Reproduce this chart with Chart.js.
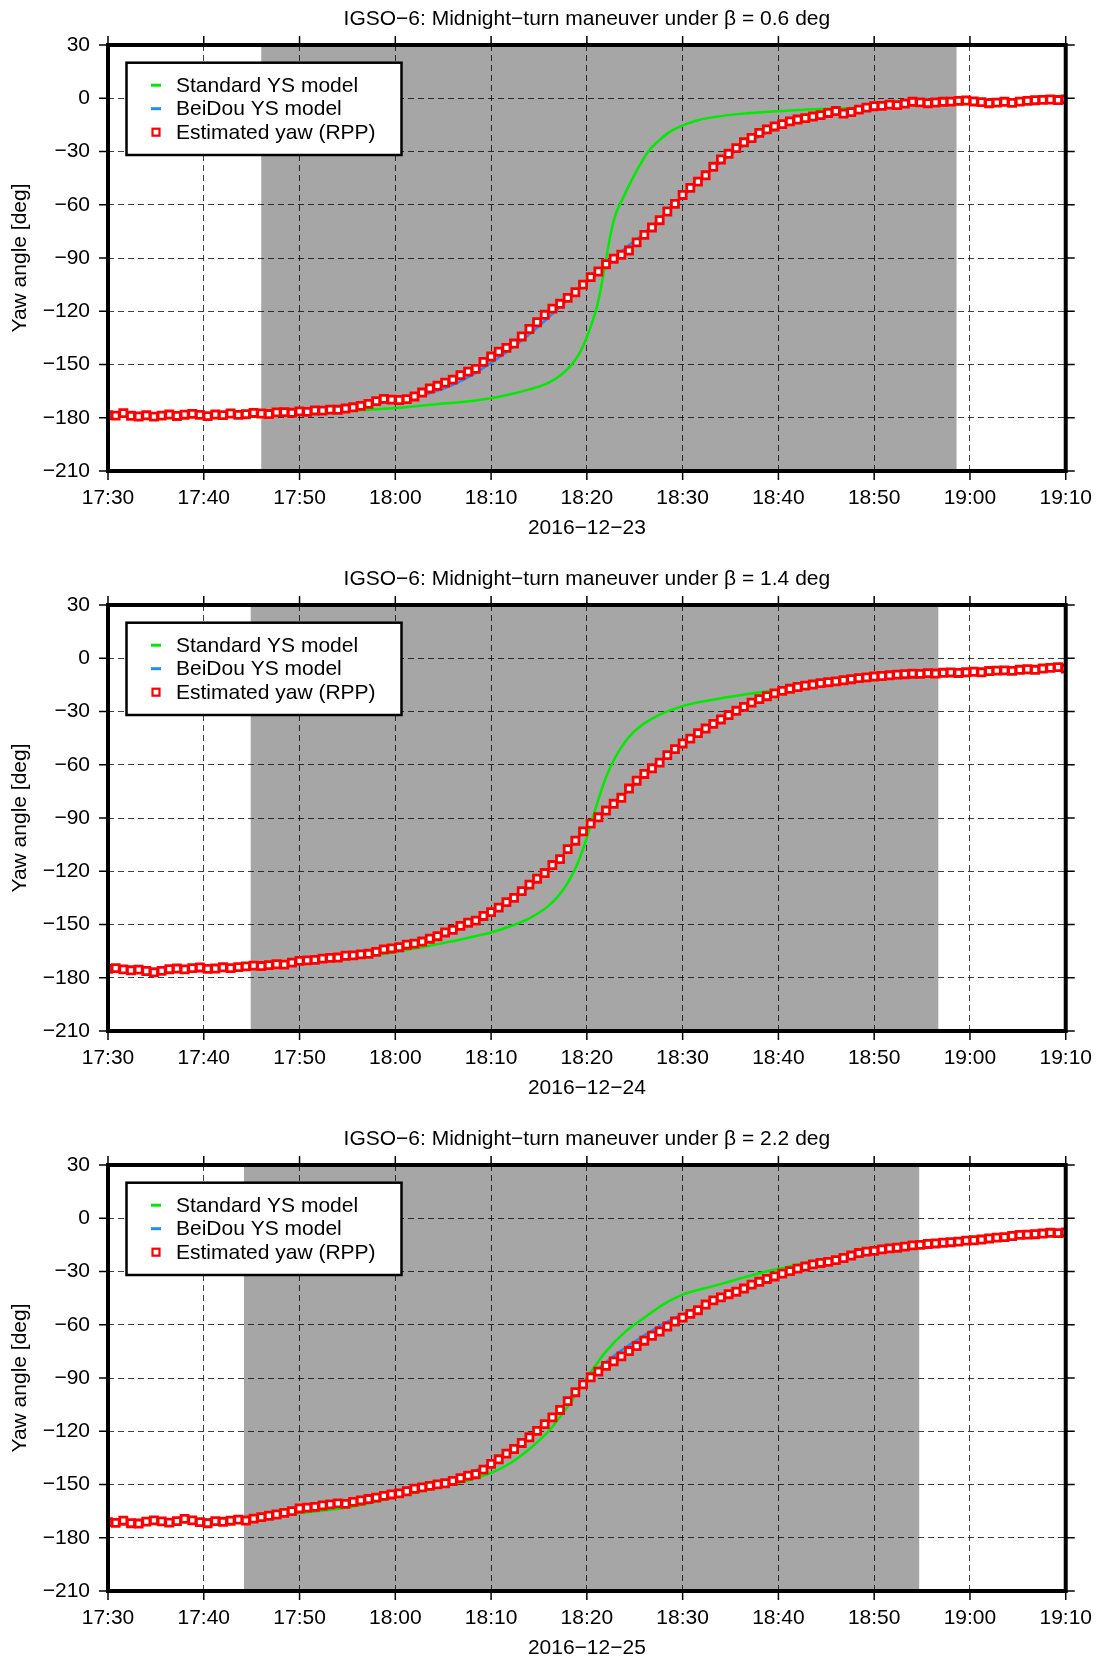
<!DOCTYPE html>
<html>
<head>
<meta charset="utf-8">
<script src="https://cdn.jsdelivr.net/npm/chart.js@4/dist/chart.umd.min.js"></script>
<style>
  body { margin: 0; background: #fff; overflow: hidden; }
  canvas { display: block; }
</style>
</head>
<body>
<canvas id="yaw1" width="1107" height="560"></canvas>
<canvas id="yaw2" width="1107" height="560"></canvas>
<canvas id="yaw3" width="1107" height="545"></canvas>
<script>
// time axis in minutes after 17:30 UTC
const xLabels = ['17:30', '17:40', '17:50', '18:00', '18:10', '18:20', '18:30', '18:40', '18:50', '19:00', '19:10'];
const titles = [
    'IGSO\u22126: Midnight\u2212turn maneuver under \u03b2 = 0.6 deg',
    'IGSO\u22126: Midnight\u2212turn maneuver under \u03b2 = 1.4 deg',
    'IGSO\u22126: Midnight\u2212turn maneuver under \u03b2 = 2.2 deg'
];
const dates = ['2016\u221212\u221223', '2016\u221212\u221224', '2016\u221212\u221225'];
const legendLabels = ['Standard YS model', 'BeiDou YS model', 'Estimated yaw (RPP)'];

// eclipse season shading (minutes after 17:30)
const shadeStart = [16.0, 14.9, 14.2];
const shadeEnd = [88.6, 86.7, 84.7];

// estimated yaw from RPP, one value every 48 s
const rppStep = 0.8;
const rpp1 = [
    -178.5, -178.8, -177.4, -178.9, -179.3, -178.6, -179.4, -178.8, -178.2, -179.0,
    -178.3, -177.8, -178.4, -179.1, -178.2, -178.5, -177.6, -178.4, -178.0, -177.3,
    -177.6, -177.9, -177.0, -176.8, -177.2, -176.4, -176.7, -175.9, -176.0, -175.4,
    -175.5, -174.8, -174.1, -173.3, -172.2, -170.6, -169.4, -169.8, -170.0, -169.5,
    -168.0, -165.8, -163.5, -162.0, -160.2, -158.5, -156.0, -154.0, -152.5, -148.5,
    -145.5, -142.8, -140.6, -138.2, -134.2, -130.0, -126.2, -122.0, -118.5, -115.8,
    -112.5, -109.3, -105.0, -100.8, -97.6, -93.5, -90.4, -88.2, -85.8, -81.2,
    -77.0, -72.8, -68.7, -63.8, -59.5, -54.5, -50.5, -47.0, -43.4, -38.6,
    -34.5, -31.3, -28.1, -24.8, -22.4, -19.5, -17.5, -15.9, -14.6, -13.0,
    -12.0, -11.2, -10.3, -9.5, -8.3, -7.2, -8.6, -7.8, -6.4, -5.3,
    -4.5, -4.3, -3.6, -3.9, -3.0, -2.0, -2.3, -2.8, -2.4, -2.0,
    -1.9, -1.5, -1.3, -1.8, -2.2, -2.8, -2.5, -2.0, -2.6, -1.9,
    -1.5, -1.1, -0.9, -0.7, -1.0, -0.6
];
const rpp2 = [
    -175.0, -174.6, -175.3, -175.8, -175.4, -176.2, -177.0, -176.1, -175.2, -174.8,
    -175.3, -174.6, -174.2, -175.0, -174.8, -174.1, -174.6, -174.0, -173.6, -173.2,
    -173.4, -172.9, -172.4, -172.6, -171.5, -170.5, -170.2, -169.9, -169.2, -168.8,
    -168.6, -167.6, -167.4, -166.8, -166.5, -165.4, -164.0, -163.5, -162.8, -161.4,
    -160.8, -159.6, -158.0, -156.6, -154.5, -153.0, -150.8, -149.0, -147.8, -145.2,
    -143.0, -140.5, -137.4, -135.0, -131.2, -127.5, -124.2, -121.0, -116.5, -113.2,
    -107.5, -102.8, -97.5, -93.2, -89.6, -85.8, -82.0, -78.6, -73.4, -69.0,
    -65.2, -62.0, -58.8, -54.6, -51.2, -48.0, -45.3, -42.2, -39.6, -37.0,
    -34.5, -32.0, -29.6, -27.4, -25.0, -23.0, -21.4, -19.8, -18.4, -17.2,
    -16.2, -15.4, -14.8, -14.0, -13.5, -13.0, -12.4, -11.8, -11.2, -10.8,
    -10.3, -10.0, -9.6, -9.2, -9.0, -8.7, -8.8, -8.4, -8.6, -8.2,
    -8.0, -8.3, -7.9, -7.6, -7.9, -7.2, -7.0, -6.8, -7.1, -6.5,
    -6.2, -6.5, -5.8, -5.4, -5.0, -5.8
];
const rpp3 = [
    -171.2, -171.6, -170.4, -171.8, -172.0, -170.9, -170.2, -170.8, -171.5, -170.6,
    -169.4, -170.2, -171.2, -171.8, -170.6, -171.0, -170.4, -169.8, -170.3, -169.2,
    -168.4, -167.6, -166.9, -166.0, -165.0, -163.5, -163.0, -162.6, -161.8, -161.2,
    -160.6, -160.9, -159.8, -159.0, -158.2, -157.4, -156.4, -155.6, -155.0, -153.8,
    -152.4, -151.6, -150.8, -149.9, -149.3, -148.0, -146.4, -145.0, -144.2, -141.6,
    -138.4, -135.8, -132.6, -130.0, -126.6, -123.4, -119.8, -116.0, -112.2, -108.0,
    -103.0, -98.0, -93.6, -89.6, -86.4, -83.2, -80.6, -77.8, -74.8, -72.0,
    -69.0, -66.2, -63.8, -61.0, -58.2, -56.0, -53.9, -51.8, -48.6, -46.3,
    -44.6, -42.8, -41.4, -39.6, -37.4, -35.8, -34.2, -32.8, -31.2, -29.8,
    -28.4, -27.2, -26.0, -25.2, -24.6, -23.6, -22.4, -21.0, -19.6, -18.8,
    -18.4, -17.5, -17.0, -16.6, -16.0, -15.3, -15.0, -14.5, -14.2, -13.8,
    -13.5, -13.2, -12.6, -12.4, -12.0, -11.4, -10.9, -10.6, -10.0, -9.4,
    -9.2, -9.0, -8.6, -8.2, -8.4, -8.0
];

// BeiDou yaw-steering model, every 2 min
const bdsStep = 2;
const bds1 = [
    -179, -179, -179, -178.8, -178.6, -178.4, -178.2, -178, -177.6, -177.2,
    -176.6, -175.8, -174.8, -173.6, -172.2, -170.6, -168.5, -165.5, -161.5, -156,
    -149, -141.5, -133, -123.5, -113.5, -103.5, -94, -84.5, -76, -66,
    -55.5, -45.5, -36, -28, -21.5, -16.5, -12.8, -9.8, -7.4, -5.6,
    -4.2, -3.4, -2.8, -2.4, -2.1, -1.9, -1.8, -1.7, -1.6, -1.5, -1.4
];
const bds2 = [
    -175.2, -175.1, -175, -174.9, -174.7, -174.5, -174.2, -173.8, -173.2, -172.4,
    -171.4, -170.2, -168.9, -167.5, -166, -164, -161.5, -158, -153.5, -148.5,
    -143, -136.5, -129, -119.5, -108, -96, -86, -76.5, -66, -56.5,
    -48, -40.5, -34, -28.5, -23.5, -19.5, -16.3, -14, -12.2, -11,
    -10.2, -9.6, -9.2, -8.8, -8.4, -8, -7.6, -7.2, -6.8, -6.4, -6
];
const bds3 = [
    -171.5, -171.3, -171, -170.7, -170.3, -169.9, -169.4, -168.7, -167.8, -166.6,
    -165.2, -163.6, -161.8, -160, -158, -156, -153.5, -150.5, -147, -143,
    -138, -131.5, -123.5, -114, -103, -91, -81, -73, -66, -59.5,
    -54, -49.5, -45.5, -41.5, -37.5, -33.5, -30, -27, -24.2, -21.8,
    -19.5, -17.6, -16, -14.7, -13.6, -12.6, -11.6, -10.7, -9.9, -9.1, -8.4
];

// standard yaw-steering model (denser around the turn)
const std1T = [0, 10, 20, 25, 30, 34, 38, 40, 42, 44, 45.5, 46.5, 47.5, 48.5, 49.25, 50, 50.5, 51, 51.5, 52,
    52.5, 53, 53.75, 54.6, 55.5, 56.4, 57.5, 58.5, 59.7, 61.5, 63.5, 66, 69, 73, 77, 82, 88, 94, 100];
const std1V = [-178.8, -178.5, -177.3, -176.2, -174.5, -172.5, -170.5, -169, -166.8, -164, -161.5, -158.8, -155, -149.5, -143.5, -134.5, -127, -118.5, -106, -91,
    -76, -65.5, -56.5, -47, -38, -30, -24, -19.5, -16, -12.5, -10.4, -8.8, -7.6, -6.4, -5.6, -4.4, -3.3, -2.5, -1.8];
const std2T = [0, 10, 20, 25, 30, 35, 38, 40, 42, 44, 46, 47, 48, 49, 50, 50.5, 51, 52, 53, 54,
    55, 57, 60, 63, 66, 70, 75, 80, 85, 90, 95, 100];
const std2V = [-175.2, -174.6, -171.8, -169.5, -165.5, -160.5, -157, -154.5, -151, -146.5, -139.5, -134, -126.5, -116, -101, -92, -83, -67, -55.5, -47,
    -41, -33.5, -27, -23.5, -20.8, -17.8, -14.5, -12, -10.2, -8.6, -7.3, -6];
const std3T = [0, 10, 20, 25, 30, 35, 38, 40, 42, 44, 46, 48, 50, 52, 54, 56, 58, 60, 63, 65,
    68, 70, 73, 76, 80, 85, 90, 95, 100];
const std3V = [-171.5, -170, -166, -163, -157, -151, -147, -143.5, -138, -130, -120, -106, -90, -75, -64, -56, -48.5, -43, -38.5, -35.5,
    -31, -28.5, -25, -22.2, -19, -15.4, -12.6, -10.4, -8.4];

const panels = [
    { id: 'yaw1', rpp: rpp1, bds: bds1, stdT: std1T, stdV: std1V },
    { id: 'yaw2', rpp: rpp2, bds: bds2, stdT: std2T, stdV: std2V },
    { id: 'yaw3', rpp: rpp3, bds: bds3, stdT: std3T, stdV: std3V }
];

const FONT = '21px "Liberation Sans", Arial, Helvetica, sans-serif';
Chart.defaults.font.family = '"Liberation Sans", Arial, Helvetica, sans-serif';
Chart.defaults.font.size = 21;
Chart.defaults.color = '#000';

const GREEN = 'rgb(0,235,0)';
const BLUE = 'rgb(30,140,255)';
const RED = 'rgb(255,0,0)';

function signed(v) {
    return v < 0 ? '\u2212' + Math.abs(v) : String(v);
}

const frame = {
    id: 'frame',
    beforeDraw(chart, args, o) {
        const { ctx, chartArea: a, scales: { x } } = chart;
        const x0 = x.getPixelForValue(o.shade[0]);
        const x1 = x.getPixelForValue(o.shade[1]);
        ctx.save();
        ctx.fillStyle = '#a6a6a6';
        ctx.fillRect(x0, a.top, x1 - x0, a.bottom - a.top);
        ctx.restore();
    },
    afterDraw(chart, args, o) {
        const { ctx, chartArea: a, scales: { x, y } } = chart;
        ctx.save();

        // ticks on all four sides
        ctx.strokeStyle = '#000';
        ctx.lineWidth = 1.5;
        ctx.beginPath();
        x.ticks.forEach(t => {
            const px = x.getPixelForValue(t.value);
            ctx.moveTo(px, a.top); ctx.lineTo(px, a.top - 9);
            ctx.moveTo(px, a.bottom); ctx.lineTo(px, a.bottom + 9);
        });
        y.ticks.forEach(t => {
            const py = y.getPixelForValue(t.value);
            ctx.moveTo(a.left, py); ctx.lineTo(a.left - 9, py);
            ctx.moveTo(a.right, py); ctx.lineTo(a.right + 9, py);
        });
        ctx.stroke();

        ctx.lineWidth = 4;
        ctx.strokeRect(a.left, a.top, a.right - a.left, a.bottom - a.top);

        // legend box
        const lx = a.left + 18.5, ly = a.top + 17.7;
        ctx.fillStyle = '#fff';
        ctx.fillRect(lx, ly, 275, 92.3);
        ctx.lineWidth = 2.5;
        ctx.strokeRect(lx, ly, 275, 92.3);
        ctx.font = FONT;
        ctx.textBaseline = 'middle';
        ctx.textAlign = 'left';
        legendLabels.forEach((label, i) => {
            const cy = ly + 22.5 + i * 23.5;
            const cx = lx + 29.5;
            if (i === 0 || i === 1) {
                ctx.fillStyle = i === 0 ? GREEN : BLUE;
                ctx.fillRect(cx - 5, cy - 1.5, 10, 3);
            } else {
                ctx.fillStyle = '#fff';
                ctx.fillRect(cx - 3.5, cy - 3.5, 7, 7);
                ctx.strokeStyle = RED;
                ctx.lineWidth = 2.2;
                ctx.strokeRect(cx - 3.5, cy - 3.5, 7, 7);
            }
            ctx.fillStyle = '#000';
            ctx.fillText(label, lx + 49.5, cy + 1);
        });

        // title, date and axis label
        const mid = (a.left + a.right) / 2;
        ctx.textAlign = 'center';
        ctx.fillText(o.title, mid, 19);
        ctx.fillText(o.date, mid, a.bottom + 57);
        ctx.translate(20, (a.top + a.bottom) / 2);
        ctx.rotate(-Math.PI / 2);
        ctx.fillText('Yaw angle [deg]', 0, 0);
        ctx.restore();
    }
};

panels.forEach((p, k) => {
    const rppData = p.rpp.map((v, i) => ({ x: i * rppStep, y: v }));
    const bdsData = p.bds.map((v, i) => ({ x: i * bdsStep, y: v }));
    const stdData = p.stdT.map((t, i) => ({ x: t, y: p.stdV[i] }));

    new Chart(document.getElementById(p.id), {
        type: 'line',
        data: {
            datasets: [
                {
                    label: legendLabels[2],
                    data: rppData,
                    showLine: false,
                    pointStyle: 'rect',
                    pointRadius: 5,
                    pointBorderWidth: 2.8,
                    pointBorderColor: RED,
                    pointBackgroundColor: '#fff',
                    order: 0
                },
                {
                    label: legendLabels[1],
                    data: bdsData,
                    borderColor: BLUE,
                    borderWidth: 2.5,
                    pointRadius: 0,
                    cubicInterpolationMode: 'monotone',
                    order: 1
                },
                {
                    label: legendLabels[0],
                    data: stdData,
                    borderColor: GREEN,
                    borderWidth: 2.5,
                    pointRadius: 0,
                    cubicInterpolationMode: 'monotone',
                    order: 2
                }
            ]
        },
        options: {
            responsive: false,
            animation: false,
            layout: { padding: { top: 45, right: 34, left: 0, bottom: 0 } },
            scales: {
                x: {
                    type: 'linear',
                    min: 0,
                    max: 100,
                    afterFit: s => { s.height = s.chart.height - 471; },
                    ticks: {
                        stepSize: 10,
                        padding: 15,
                        maxRotation: 0,
                        callback: (v, i) => xLabels[i]
                    },
                    grid: { color: 'rgba(0,0,0,0.75)', lineWidth: 1, drawTicks: false },
                    border: { display: false, dash: [6, 4] }
                },
                y: {
                    min: -210,
                    max: 30,
                    afterFit: s => { s.width = 108; },
                    ticks: {
                        stepSize: 30,
                        padding: 18,
                        callback: v => signed(v)
                    },
                    grid: { color: 'rgba(0,0,0,0.75)', lineWidth: 1, drawTicks: false },
                    border: { display: false, dash: [6, 4] }
                }
            },
            plugins: {
                legend: { display: false },
                tooltip: { enabled: false },
                frame: { shade: [shadeStart[k], shadeEnd[k]], title: titles[k], date: dates[k] }
            }
        },
        plugins: [frame]
    });
});
</script>
</body>
</html>
